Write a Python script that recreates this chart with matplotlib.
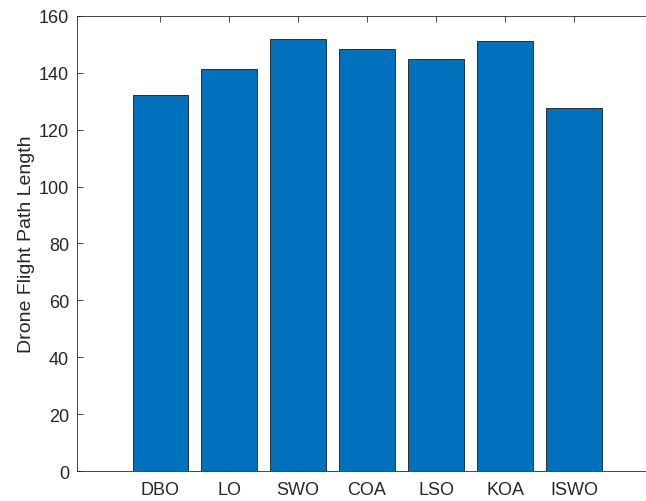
import matplotlib
matplotlib.use('Agg')
import matplotlib.pyplot as plt
import numpy as np

# Drone flight path length per algorithm
algorithms = ['DBO', 'LO', 'SWO', 'COA', 'LSO', 'KOA', 'ISWO']
path_length = [132.3, 141.3, 151.8, 148.4, 144.8, 151.2, 127.7]

plt.rcParams['font.family'] = ['Liberation Sans', 'DejaVu Sans']

fig = plt.figure(figsize=(6.46, 5.02), dpi=100)
# right edge of the axes runs past the figure border
ax = fig.add_axes([0.1197, 0.0592, 0.897, 0.9076])

x = np.arange(len(algorithms))
ax.bar(x, path_length, width=0.8, color='#0072BD', edgecolor='#1a1a1a',
       linewidth=0.6, zorder=2)

ax.set_xlim(-1.2, len(algorithms) - 1 + 1.2)
ax.set_ylim(0, 160)
ax.set_yticks(np.arange(0, 161, 20))
ax.set_xticks(x)
ax.set_xticklabels(algorithms)

ax.set_ylabel('Drone Flight Path Length', fontsize=14, color='#262626', labelpad=3)

for s in ax.spines.values():
    s.set_color('#262626')
    s.set_linewidth(0.6)
    s.set_zorder(3)

ax.tick_params(axis='both', direction='in', length=4, width=0.6,
               color='#262626', labelcolor='#262626', labelsize=13,
               top=True, right=True)
ax.tick_params(axis='x', pad=7)
ax.tick_params(axis='y', pad=6)

fig.savefig('out.png', dpi=100)
